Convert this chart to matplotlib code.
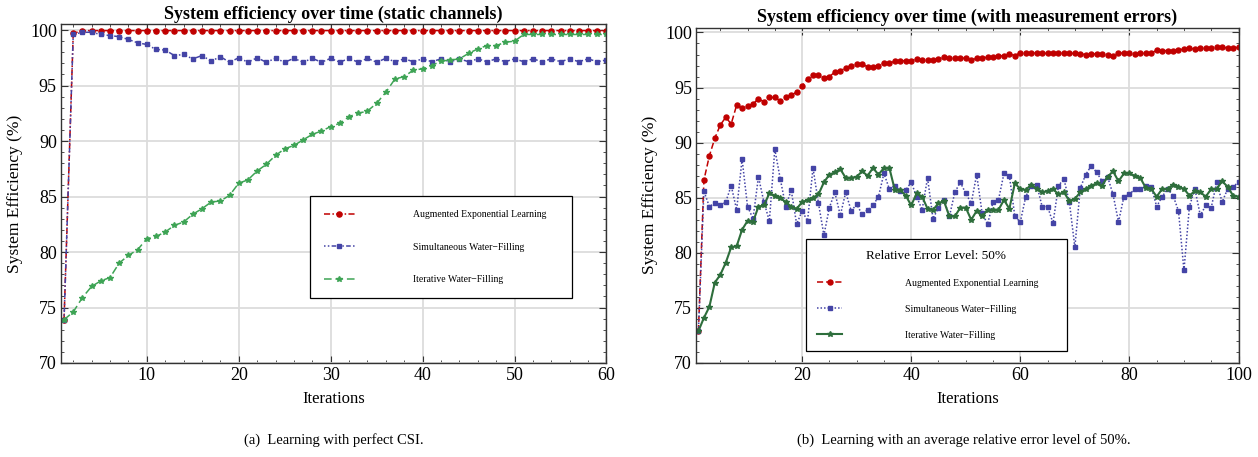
import numpy as np
import matplotlib
matplotlib.use("Agg")
import matplotlib.pyplot as plt
from matplotlib.ticker import MultipleLocator

plt.rcParams['font.family'] = ['Liberation Serif', 'DejaVu Serif']

# ---------------- data: (a) static channels ----------------
iters_a = list(range(1, 61))
ael_a = [73.9, 99.7] + [99.95] * 58
swf_a = [73.9, 99.6, 99.8, 99.8, 99.6, 99.5, 99.4, 99.15, 98.85, 98.7,
         98.25, 98.2, 97.7, 97.8, 97.4, 97.7, 97.2, 97.6, 97.1, 97.5,
         97.1, 97.5, 97.1, 97.45, 97.1, 97.45, 97.1, 97.45, 97.1, 97.45,
         97.1, 97.45, 97.1, 97.45, 97.1, 97.45, 97.15, 97.4, 97.15, 97.4,
         97.15, 97.4, 97.15, 97.4, 97.15, 97.4, 97.15, 97.4, 97.15, 97.4,
         97.15, 97.4, 97.15, 97.4, 97.15, 97.4, 97.15, 97.4, 97.15, 97.3]
iwf_a = [73.9, 74.6, 75.9, 76.9, 77.4, 77.7, 79.0, 79.7, 80.2, 81.2,
         81.4, 81.8, 82.4, 82.7, 83.4, 83.9, 84.5, 84.6, 85.1, 86.2,
         86.5, 87.3, 87.9, 88.7, 89.3, 89.6, 90.1, 90.6, 90.9, 91.3,
         91.6, 92.2, 92.5, 92.7, 93.4, 94.4, 95.6, 95.8, 96.4, 96.5,
         96.8, 97.2, 97.3, 97.4, 97.9, 98.3, 98.6, 98.6, 98.9, 99.0,
         99.6, 99.6, 99.6, 99.6, 99.6, 99.6, 99.6, 99.6, 99.6, 99.6]

# ---------------- data: (b) measurement errors ----------------
iters_b = list(range(1, 101))
ael_b = [72.9, 86.6, 88.8, 90.4, 91.6, 92.3, 91.7, 93.4, 93.1, 93.3,
         93.5, 94.0, 93.7, 94.1, 94.1, 93.8, 94.1, 94.3, 94.6, 95.15,
         95.8, 96.1, 96.1, 95.9, 96.0, 96.4, 96.5, 96.8, 97.0, 97.1,
         97.1, 96.9, 96.9, 97.0, 97.2, 97.2, 97.4, 97.4, 97.45, 97.45,
         97.6, 97.5, 97.5, 97.5, 97.6, 97.75, 97.7, 97.7, 97.7, 97.65,
         97.5, 97.65, 97.7, 97.75, 97.8, 97.85, 97.9, 98.05, 97.9, 98.15,
         98.1, 98.1, 98.15, 98.1, 98.1, 98.1, 98.1, 98.15, 98.1, 98.1,
         98.05, 98.0, 98.05, 98.05, 98.05, 98.0, 97.9, 98.1, 98.15, 98.1,
         98.05, 98.1, 98.1, 98.1, 98.4, 98.35, 98.35, 98.35, 98.4, 98.5,
         98.55, 98.5, 98.55, 98.6, 98.6, 98.65, 98.65, 98.6, 98.6, 98.65]
swf_b = [72.9, 85.6, 84.2, 84.5, 84.3, 84.6, 86.1, 83.9, 88.5, 84.2,
         83.1, 86.9, 84.6, 82.9, 89.4, 86.7, 84.2, 85.7, 82.6, 83.8,
         82.9, 87.7, 84.5, 81.6, 84.1, 85.5, 83.4, 85.5, 83.8, 84.4,
         83.5, 83.9, 84.3, 85.1, 87.2, 85.8, 86.1, 85.6, 85.7, 86.4,
         85.1, 83.9, 86.8, 83.1, 84.1, 84.8, 83.3, 85.5, 86.4, 85.4,
         84.5, 87.1, 83.6, 82.6, 84.6, 84.8, 87.2, 87.0, 83.3, 82.8,
         85.1, 86.1, 86.2, 84.2, 84.2, 82.7, 86.1, 86.7, 84.6, 80.5,
         85.9, 87.1, 87.9, 87.3, 86.5, 86.9, 85.3, 82.8, 85.1, 85.3,
         85.8, 85.8, 86.1, 86.0, 84.2, 85.1, 85.8, 85.2, 83.8, 78.4,
         84.2, 85.8, 83.4, 84.3, 84.1, 86.4, 84.6, 85.8, 86.0, 86.4]
iwf_b = [72.9, 74.1, 75.1, 77.3, 78.0, 79.1, 80.5, 80.6, 82.1, 82.9,
         82.8, 84.2, 84.3, 85.4, 85.2, 85.0, 84.6, 84.2, 84.0, 84.6,
         84.8, 85.0, 85.3, 86.4, 87.1, 87.3, 87.6, 86.8, 86.8, 86.9,
         87.4, 87.0, 87.7, 87.1, 87.7, 87.7, 85.7, 85.7, 85.2, 84.3,
         85.4, 85.1, 84.0, 83.9, 84.5, 84.7, 83.3, 83.3, 84.1, 84.1,
         83.0, 83.8, 83.3, 83.9, 83.9, 83.9, 84.8, 84.0, 86.3, 85.8,
         85.7, 86.2, 85.8, 85.5, 85.6, 85.8, 85.3, 85.5, 84.7, 84.9,
         85.5, 85.8, 86.1, 86.3, 86.1, 86.9, 87.4, 86.5, 87.2, 87.2,
         87.0, 86.8, 85.9, 85.8, 85.1, 85.8, 85.8, 86.2, 86.0, 85.8,
         85.2, 85.6, 85.5, 85.1, 85.8, 85.8, 86.5, 86.0, 85.2, 85.1]

labels = ["Augmented Exponential Learning",
          "Simultaneous Water\u2212Filling",
          "Iterative Water\u2212Filling"]

RED = "#c00000"
BLUE = "#4444a6"
GREEN_A = "#3ea455"
GREEN_B = "#2e6e3c"

fig = plt.figure(figsize=(12.58, 4.57), dpi=100)
ax1 = fig.add_axes([0.0485, 0.2057, 0.4336, 0.7407])
ax2 = fig.add_axes([0.5533, 0.2057, 0.4312, 0.7341])


def style_axes(ax, xmaj, xmin):
    ax.xaxis.set_major_locator(MultipleLocator(xmaj))
    ax.xaxis.set_minor_locator(MultipleLocator(xmin))
    ax.yaxis.set_major_locator(MultipleLocator(5))
    ax.yaxis.set_minor_locator(MultipleLocator(1))
    ax.tick_params(which='both', direction='in', top=True, right=True,
                   labelsize=13, color='#333333')
    ax.tick_params(which='major', length=5, width=0.8, pad=3)
    ax.tick_params(which='minor', length=2.5, width=0.6)
    ax.grid(True, which='major', color='#dcdcdc', linewidth=1.3)
    ax.set_axisbelow(True)
    for s in ax.spines.values():
        s.set_color('#333333')
        s.set_linewidth(1.0)
    ax.set_ylabel("System Efficiency (%)", fontsize=12.5, labelpad=5)
    ax.set_xlabel("Iterations", fontsize=12, labelpad=5)


# ---- panel (a)
l1, = ax1.plot(iters_a, ael_a, color=RED, linestyle=(0, (4, 1.5, 1, 1.5)),
               lw=1.1, marker='o', ms=3.7, label=labels[0])
l2, = ax1.plot(iters_a, swf_a, color=BLUE, linestyle=(0, (1, 1.5, 1, 1.5, 3, 1.5)),
               lw=1.1, marker='s', ms=3.4, label=labels[1])
l3, = ax1.plot(iters_a, iwf_a, color=GREEN_A, linestyle=(0, (5, 2.5)),
               lw=1.1, marker='*', ms=4.2, label=labels[2])
ax1.set_xlim(0.67, 60)
ax1.set_ylim(70, 100.5)
style_axes(ax1, 10, 2)
ax1.set_title("System efficiency over time (static channels)",
              fontsize=13, fontweight='bold', pad=4)
leg1 = ax1.legend(handles=[l1, l2, l3], loc='lower left',
                  bbox_to_anchor=(0.457, 0.192, 0.48, 0.0), mode='expand',
                  fontsize=7, handlelength=3.1, handletextpad=6.0,
                  labelspacing=2.4, borderpad=1.45, fancybox=False,
                  edgecolor='black', framealpha=1.0, borderaxespad=0)
leg1.get_frame().set_linewidth(0.9)

# ---- panel (b)
m1, = ax2.plot(iters_b, ael_b, color=RED, linestyle=(0, (4, 2)),
               lw=1.1, marker='o', ms=3.6, label=labels[0])
m2, = ax2.plot(iters_b, swf_b, color=BLUE, linestyle=(0, (1, 1.3)),
               lw=1.1, marker='s', ms=3.4, label=labels[1])
m3, = ax2.plot(iters_b, iwf_b, color=GREEN_B, linestyle='-',
               lw=1.5, marker='*', ms=4.2, label=labels[2])
ax2.set_xlim(0.56, 100)
ax2.set_ylim(70, 100.45)
style_axes(ax2, 20, 5)
ax2.set_title("System efficiency over time (with measurement errors)",
              fontsize=13, fontweight='bold', pad=4)
leg2 = ax2.legend(handles=[m1, m2, m3], loc='lower left',
                  bbox_to_anchor=(0.203, 0.037, 0.48, 0.0), mode='expand',
                  fontsize=7, handlelength=2.6, handletextpad=6.5,
                  labelspacing=1.75, borderpad=1.1, fancybox=False,
                  edgecolor='black', framealpha=1.0, borderaxespad=0,
                  title="Relative Error Level: 50%", title_fontsize=9.5)
leg2.get_frame().set_linewidth(0.9)

fig.text(0.2653, 0.037, "(a)  Learning with perfect CSI.", ha='center',
         va='center', fontsize=10.5)
fig.text(0.766, 0.037, "(b)  Learning with an average relative error level of 50%.",
         ha='center', va='center', fontsize=10.5)

fig.savefig("out.png", dpi=100)
